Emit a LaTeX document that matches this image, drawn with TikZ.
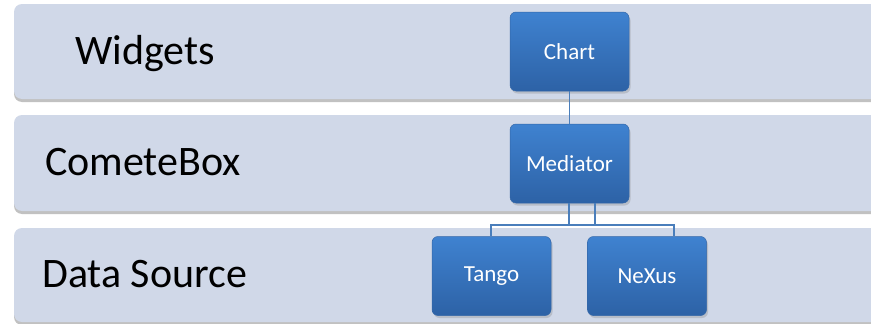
\documentclass[tikz,border=0pt]{standalone}
\usepackage{fontspec}
\setmainfont{Carlito}
\usetikzlibrary{shadows,positioning}
\definecolor{bandfill}{HTML}{D0D8E8}
\definecolor{boxtop}{HTML}{3F82D0}
\definecolor{boxbot}{HTML}{2D62A6}
\definecolor{boxline}{HTML}{3467A8}
\definecolor{linkcol}{HTML}{4A7EBB}
\tikzset{
  band/.style={fill=bandfill, rounded corners=8pt,
    drop shadow={shadow xshift=0pt, shadow yshift=-3pt, opacity=0.4, fill=black!60}},
  bandlabel/.style={anchor=base west, font=\fontsize{42}{50}\selectfont, text=black, inner sep=0pt},
  blockbox/.style={rounded corners=6pt, top color=boxtop, bottom color=boxbot,
    draw=boxline, line width=0.5pt, minimum width=119pt, minimum height=79pt,
    text=white, font=\fontsize{23}{27}\selectfont,
    drop shadow={shadow xshift=1.5pt, shadow yshift=-2.5pt, opacity=0.3}},
  link/.style={draw=linkcol, line width=1.3pt}
}
\begin{document}
\begin{tikzpicture}[x=1pt,y=-1pt]
\useasboundingbox (0,0) rectangle (871,324);
\clip (0,0) rectangle (871,324);
\fill[white] (0,0) rectangle (871,324);
% bands
\path[band] (14,4) rectangle (900,99);
\path[band] (14,115) rectangle (900,211);
\path[band] (14,228) rectangle (900,322);
% band labels
\node[bandlabel] (lw) at (75,64) {Widgets};
\node[bandlabel] (lc) at (45,175) {CometeBox};
\node[bandlabel] (ld) at (42,287) {Data Source};
% connector coordinates
\coordinate (jl) at (491,225);
\coordinate (jr) at (674,225);
\coordinate (ma) at (569,225);
\coordinate (mb) at (595,225);
% boxes
\node[blockbox] (chart) at (569.5,51.5) {Chart};
\node[blockbox] (med) at (569.5,163.5) {Mediator};
\node[blockbox] (tango) at (491.5,276) {Tango};
\node[blockbox] (nexus) at (647,276) {NeXus};
% links
\draw[link] (chart.south) -- (med.north);
\draw[link] (med.south -| ma) -- (ma) -- (jl) -- (tango.north -| jl);
\draw[link] (med.south -| mb) -- (mb) -- (jr) -- (nexus.north -| jr);
\draw[link] (ma) -- (mb);
\end{tikzpicture}
\end{document}
